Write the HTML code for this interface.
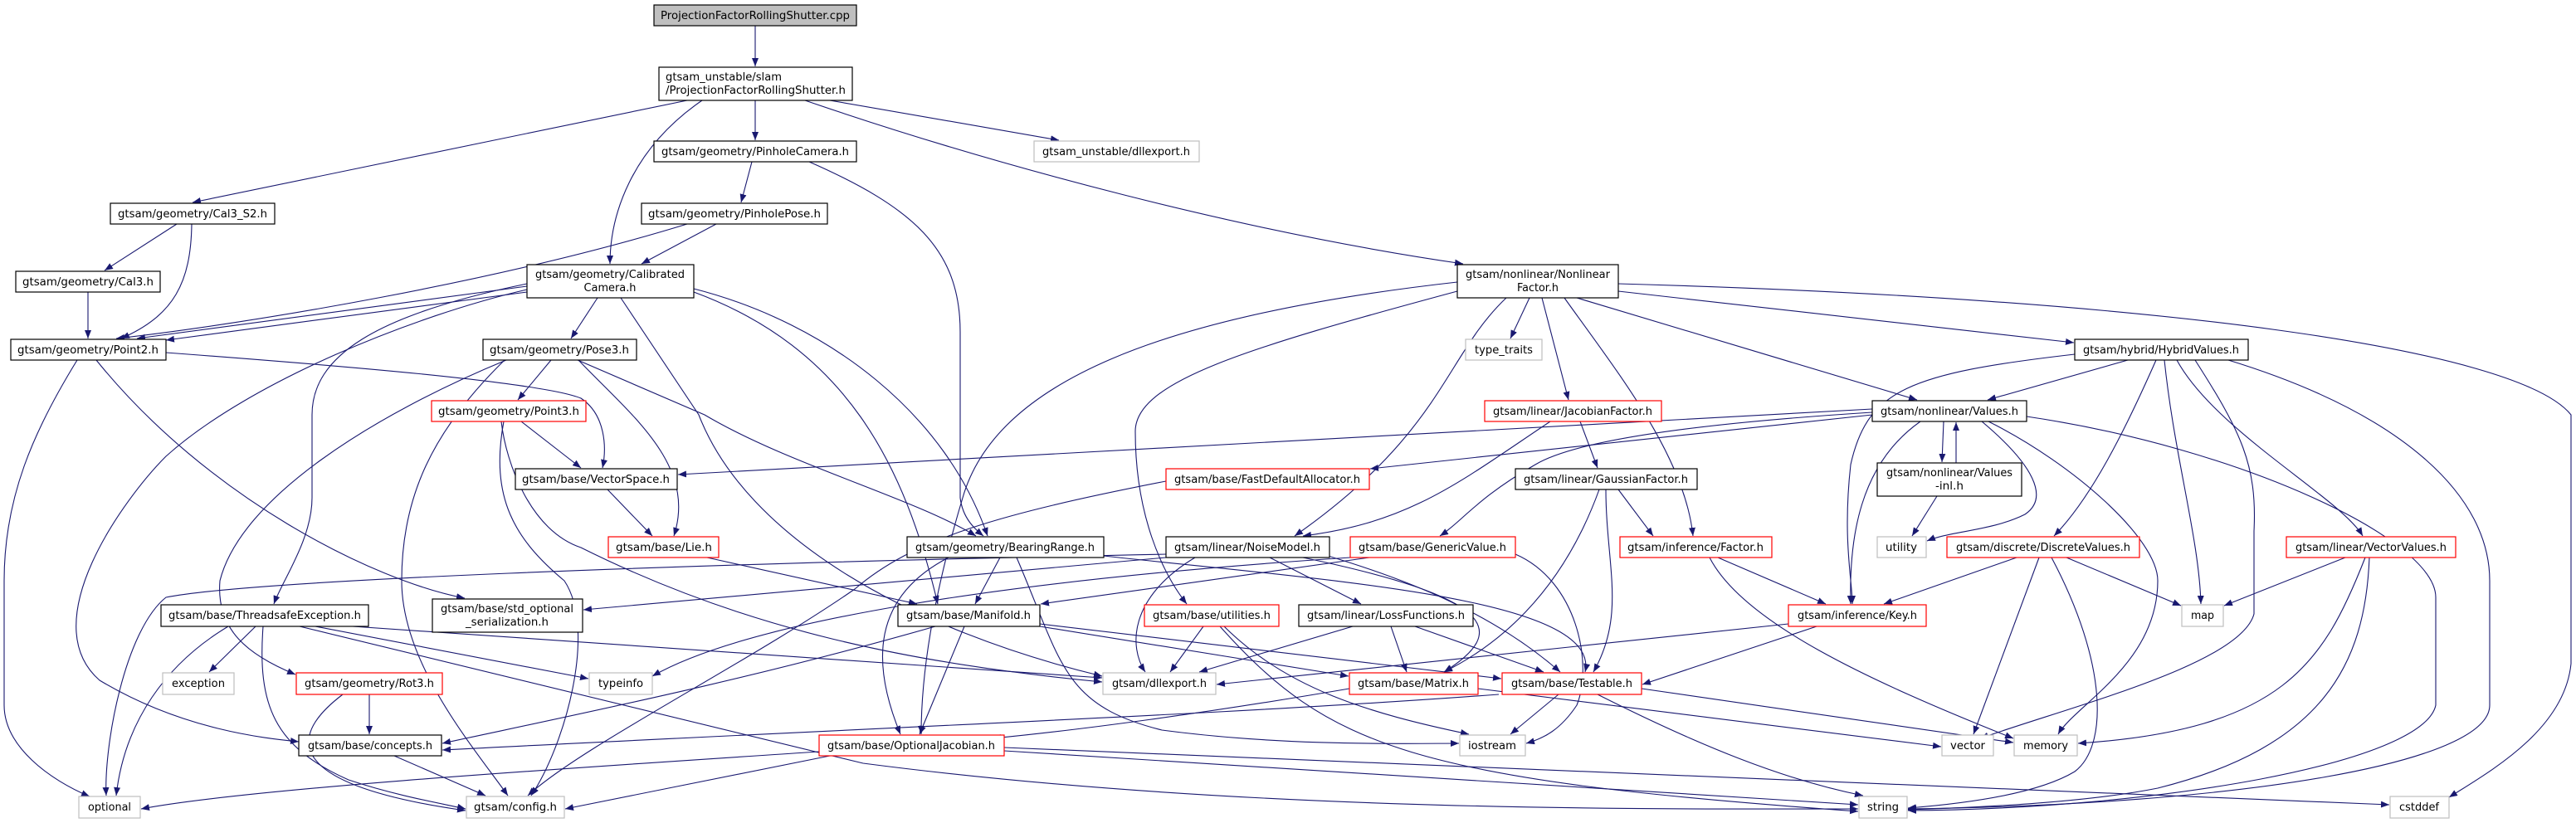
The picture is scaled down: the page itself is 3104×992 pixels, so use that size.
<!DOCTYPE html>
<html><head><meta charset="utf-8"><style>
html,body{margin:0;padding:0;background:#fff;width:3104px;height:992px;overflow:hidden}
svg{display:block}
text{font-family:"DejaVu Sans","Liberation Sans",sans-serif;font-size:13px;fill:#000}
.e{fill:none;stroke:#191970;stroke-width:1.1}
.b{fill:#fff;stroke:#000;stroke-width:1.2}
.r{fill:#fff;stroke:#ff0000;stroke-width:1.2}
.g{fill:#fff;stroke:#bfbfbf;stroke-width:1.2}
</style></head><body>
<svg width="3104" height="992" viewBox="0 0 3104 992" xmlns="http://www.w3.org/2000/svg">
<defs><marker id="a" markerUnits="userSpaceOnUse" markerWidth="11" markerHeight="8" refX="10" refY="4" orient="auto"><path d="M0,0 L10,4 L0,8 z" fill="#191970"/></marker></defs>
<g class="e" marker-end="url(#a)">
<path marker-end="url(#a)" d="M910 31 L910 80"/>
<path marker-end="url(#a)" d="M828 121 L232 244"/>
<path marker-end="url(#a)" d="M846 121 C760 180 735 260 735 318"/>
<path marker-end="url(#a)" d="M910 121 L910 169"/>
<path marker-end="url(#a)" d="M1000 121 L1276 169"/>
<path marker-end="url(#a)" d="M970 121 C1200 200 1500 280 1763 318"/>
<path marker-end="url(#a)" d="M906 195 L893 244"/>
<path marker-end="url(#a)" d="M975 195 C1100 250 1157 300 1157 400 L1157 600 C1160 625 1175 638 1185 646"/>
<path marker-end="url(#a)" d="M213 270 L126 326"/>
<path marker-end="url(#a)" d="M231 270 C230 340 210 380 146 408"/>
<path marker-end="url(#a)" d="M863 270 L773 318"/>
<path marker-end="url(#a)" d="M828 270 C600 340 300 390 140 408"/>
<path marker-end="url(#a)" d="M106 352 L106 408"/>
<path marker-end="url(#a)" d="M635 345 C450 370 300 390 165 408"/>
<path marker-end="url(#a)" d="M635 352 L200 410"/>
<path marker-end="url(#a)" d="M720 359 L688 408"/>
<path marker-end="url(#a)" d="M635 342 C450 380 376 430 376 500 L376 600 C376 650 340 700 330 728"/>
<path marker-end="url(#a)" d="M635 349 C500 380 300 460 200 550 C150 600 40 750 120 820 C220 880 320 890 360 894"/>
<path marker-end="url(#a)" d="M748 359 L842 500 C900 650 1100 760 1328 815"/>
<path marker-end="url(#a)" d="M836 348 C1000 390 1140 500 1190 646"/>
<path marker-end="url(#a)" d="M836 352 C1020 420 1090 560 1130 728"/>
<path marker-end="url(#a)" d="M93 434 C40 520 5 600 5 700 L5 850 C5 900 60 940 108 960"/>
<path marker-end="url(#a)" d="M116 434 C250 600 450 700 560 721"/>
<path marker-end="url(#a)" d="M200 425 C400 440 650 460 700 480 C730 500 731 540 726 564"/>
<path marker-end="url(#a)" d="M664 434 L624 482"/>
<path marker-end="url(#a)" d="M697 434 C760 500 840 560 812 646"/>
<path marker-end="url(#a)" d="M696 434 L849 500 C950 560 1100 600 1176 646"/>
<path marker-end="url(#a)" d="M610 434 C450 500 290 600 265 700 C260 760 300 790 356 813"/>
<path marker-end="url(#a)" d="M608 434 C520 520 484 600 484 700 C484 800 570 900 612 959"/>
<path marker-end="url(#a)" d="M628 508 L700 564"/>
<path marker-end="url(#a)" d="M607 508 C590 600 620 650 680 700 C720 760 680 900 640 959"/>
<path marker-end="url(#a)" d="M604 508 C610 560 640 640 700 660 C900 760 1100 800 1328 822"/>
<path marker-end="url(#a)" d="M732 590 L786 646"/>
<path marker-end="url(#a)" d="M852 672 L1105 728"/>
<path marker-end="url(#a)" d="M308 755 L252 810"/>
<path marker-end="url(#a)" d="M275 755 C200 800 150 870 140 959"/>
<path marker-end="url(#a)" d="M380 755 L709 818"/>
<path marker-end="url(#a)" d="M317 755 C310 850 330 900 420 940 C480 960 540 970 561 975"/>
<path marker-end="url(#a)" d="M425 755 L1328 817"/>
<path marker-end="url(#a)" d="M361 755 L1040 920 C1500 980 2000 975 2239 975"/>
<path marker-end="url(#a)" d="M445 837 L445 885"/>
<path marker-end="url(#a)" d="M413 837 C330 900 370 950 561 977"/>
<path marker-end="url(#a)" d="M475 911 L585 959"/>
<path marker-end="url(#a)" d="M1127 755 C900 820 700 860 533 896"/>
<path marker-end="url(#a)" d="M1162 755 L1108 885"/>
<path marker-end="url(#a)" d="M1253 755 L1625 815"/>
<path marker-end="url(#a)" d="M1253 752 L1809 818"/>
<path marker-end="url(#a)" d="M1205 672 L1175 728"/>
<path marker-end="url(#a)" d="M1143 672 C1050 720 1050 800 1085 885"/>
<path marker-end="url(#a)" d="M1330 670 C1600 700 1930 720 1910 810"/>
<path marker-end="url(#a)" d="M1225 672 C1280 800 1280 850 1400 880 C1550 900 1700 896 1758 896"/>
<path marker-end="url(#a)" d="M1440 672 C1360 720 1360 780 1380 810"/>
<path marker-end="url(#a)" d="M1530 672 L1640 728"/>
<path marker-end="url(#a)" d="M1570 672 C1800 720 1820 760 1740 810"/>
<path marker-end="url(#a)" d="M1600 670 C1700 700 1800 740 1880 810"/>
<path marker-end="url(#a)" d="M1405 668 C800 680 300 700 200 720 C150 760 125 900 128 959"/>
<path marker-end="url(#a)" d="M1405 672 L703 735"/>
<path marker-end="url(#a)" d="M1405 580 C1200 620 1100 650 1030 710 C900 800 700 900 636 959"/>
<path marker-end="url(#a)" d="M1868 508 C1760 580 1700 630 1570 646"/>
<path marker-end="url(#a)" d="M1904 508 L1925 564"/>
<path marker-end="url(#a)" d="M1927 590 C1880 720 1800 780 1740 810"/>
<path marker-end="url(#a)" d="M1935 590 C1935 680 1960 740 1920 810"/>
<path marker-end="url(#a)" d="M1950 590 L1992 646"/>
<path marker-end="url(#a)" d="M1650 672 L1254 728"/>
<path marker-end="url(#a)" d="M1826 668 C1900 700 1920 800 1900 850 C1880 880 1860 890 1839 896"/>
<path marker-end="url(#a)" d="M1627 672 C1200 700 900 750 786 815"/>
<path marker-end="url(#a)" d="M1450 755 L1410 810"/>
<path marker-end="url(#a)" d="M1475 755 C1550 830 1650 860 1770 885"/>
<path marker-end="url(#a)" d="M1470 755 C1600 900 1700 940 2239 978"/>
<path marker-end="url(#a)" d="M1630 755 L1445 810"/>
<path marker-end="url(#a)" d="M1676 755 L1695 810"/>
<path marker-end="url(#a)" d="M1705 755 L1860 810"/>
<path marker-end="url(#a)" d="M1626 830 C1450 860 1300 880 1196 890"/>
<path marker-end="url(#a)" d="M1781 830 L2339 900"/>
<path marker-end="url(#a)" d="M1806 837 C1500 860 1100 875 533 904"/>
<path marker-end="url(#a)" d="M1878 837 L1820 885"/>
<path marker-end="url(#a)" d="M1978 830 L2426 895"/>
<path marker-end="url(#a)" d="M1925 837 C2050 900 2150 940 2245 959"/>
<path marker-end="url(#a)" d="M987 906 C700 925 300 950 170 975"/>
<path marker-end="url(#a)" d="M1000 911 L681 975"/>
<path marker-end="url(#a)" d="M1210 905 L2239 970"/>
<path marker-end="url(#a)" d="M1210 901 L2879 970"/>
<path marker-end="url(#a)" d="M2070 672 L2200 728"/>
<path marker-end="url(#a)" d="M2060 672 C2100 750 2250 820 2426 890"/>
<path marker-end="url(#a)" d="M2189 755 L1979 825"/>
<path marker-end="url(#a)" d="M2155 752 L1466 825"/>
<path marker-end="url(#a)" d="M1843 359 L1820 408"/>
<path marker-end="url(#a)" d="M1858 359 L1890 482"/>
<path marker-end="url(#a)" d="M1756 340 C1400 380 1200 460 1160 600 C1130 700 1110 800 1110 885"/>
<path marker-end="url(#a)" d="M1756 351 C1500 420 1368 460 1368 520 C1368 620 1400 690 1430 728"/>
<path marker-end="url(#a)" d="M1815 359 C1740 430 1740 520 1560 646"/>
<path marker-end="url(#a)" d="M1885 359 C1950 450 2030 550 2040 646"/>
<path marker-end="url(#a)" d="M1900 359 L2310 482"/>
<path marker-end="url(#a)" d="M1950 351 L2499 413"/>
<path marker-end="url(#a)" d="M1950 342 C2600 360 3034 420 3098 500 L3098 800 C3090 880 3000 930 2951 961"/>
<path marker-end="url(#a)" d="M2564 434 L2395 482"/>
<path marker-end="url(#a)" d="M2500 427 C2300 450 2250 470 2230 560 C2220 650 2232 700 2232 728"/>
<path marker-end="url(#a)" d="M2598 434 C2560 520 2520 600 2475 646"/>
<path marker-end="url(#a)" d="M2608 434 C2620 550 2650 650 2652 728"/>
<path marker-end="url(#a)" d="M2623 434 C2670 520 2820 600 2847 646"/>
<path marker-end="url(#a)" d="M2645 434 C2700 520 2720 560 2716 640 L2716 740 C2700 800 2500 850 2386 890"/>
<path marker-end="url(#a)" d="M2685 434 C2900 500 3000 600 3000 700 L3000 850 C3000 920 2700 970 2299 975"/>
<path marker-end="url(#a)" d="M2256 493 L817 572"/>
<path marker-end="url(#a)" d="M2256 500 L1651 565"/>
<path marker-end="url(#a)" d="M2256 497 C2050 510 1900 530 1850 560 C1780 600 1760 630 1735 646"/>
<path marker-end="url(#a)" d="M2342 508 L2340 557"/>
<path marker-end="url(#a)" d="M2357 558 L2357 509"/>
<path marker-end="url(#a)" d="M2334 598 L2304 646"/>
<path marker-end="url(#a)" d="M2388 508 C2450 560 2470 600 2440 620 C2400 640 2350 640 2322 652"/>
<path marker-end="url(#a)" d="M2314 508 C2240 560 2228 650 2230 728"/>
<path marker-end="url(#a)" d="M2396 508 C2500 560 2600 650 2600 700 C2600 800 2500 850 2480 885"/>
<path marker-end="url(#a)" d="M2442 502 C2700 540 2935 650 2935 720 L2935 850 C2920 920 2600 975 2299 977"/>
<path marker-end="url(#a)" d="M2430 672 L2270 728"/>
<path marker-end="url(#a)" d="M2457 672 L2378 885"/>
<path marker-end="url(#a)" d="M2472 672 C2540 800 2540 900 2500 930 C2450 960 2350 970 2299 974"/>
<path marker-end="url(#a)" d="M2490 672 L2628 730"/>
<path marker-end="url(#a)" d="M2826 672 L2680 730"/>
<path marker-end="url(#a)" d="M2850 672 C2800 800 2750 880 2504 896"/>
<path marker-end="url(#a)" d="M2855 672 C2850 800 2800 900 2600 950 C2500 970 2350 974 2299 976"/>
</g>
<g>
<rect x="788" y="6" width="244" height="25" fill="#bfbfbf" stroke="#000" stroke-width="1.2"/><text x="910" y="23" text-anchor="middle" textLength="228" lengthAdjust="spacingAndGlyphs">ProjectionFactorRollingShutter.cpp</text>
<rect class="b" x="794" y="81" width="233" height="40"/><text x="802" y="97" textLength="140" lengthAdjust="spacingAndGlyphs">gtsam_unstable/slam</text><text x="802" y="113" textLength="217" lengthAdjust="spacingAndGlyphs">/ProjectionFactorRollingShutter.h</text>
<rect class="b" x="788" y="170" width="244" height="25"/><text x="910" y="187" text-anchor="middle" textLength="226" lengthAdjust="spacingAndGlyphs">gtsam/geometry/PinholeCamera.h</text>
<rect class="b" x="133" y="245" width="198" height="25"/><text x="232" y="262" text-anchor="middle" textLength="180" lengthAdjust="spacingAndGlyphs">gtsam/geometry/Cal3_S2.h</text>
<rect class="b" x="773" y="245" width="224" height="25"/><text x="885" y="262" text-anchor="middle" textLength="208" lengthAdjust="spacingAndGlyphs">gtsam/geometry/PinholePose.h</text>
<rect class="b" x="19" y="327" width="174" height="25"/><text x="106" y="344" text-anchor="middle" textLength="158" lengthAdjust="spacingAndGlyphs">gtsam/geometry/Cal3.h</text>
<rect class="b" x="635" y="319" width="201" height="40"/><text x="735" y="335" text-anchor="middle" textLength="180" lengthAdjust="spacingAndGlyphs">gtsam/geometry/Calibrated</text><text x="735" y="351" text-anchor="middle" textLength="63" lengthAdjust="spacingAndGlyphs">Camera.h</text>
<rect class="b" x="13" y="409" width="187" height="25"/><text x="106" y="426" text-anchor="middle" textLength="170" lengthAdjust="spacingAndGlyphs">gtsam/geometry/Point2.h</text>
<rect class="b" x="582" y="409" width="185" height="25"/><text x="674" y="426" text-anchor="middle" textLength="168" lengthAdjust="spacingAndGlyphs">gtsam/geometry/Pose3.h</text>
<rect class="r" x="520" y="483" width="186" height="25"/><text x="613" y="500" text-anchor="middle" textLength="170" lengthAdjust="spacingAndGlyphs">gtsam/geometry/Point3.h</text>
<rect class="b" x="621" y="565" width="195" height="25"/><text x="718" y="582" text-anchor="middle" textLength="178" lengthAdjust="spacingAndGlyphs">gtsam/base/VectorSpace.h</text>
<rect class="r" x="733" y="647" width="133" height="25"/><text x="800" y="664" text-anchor="middle" textLength="116" lengthAdjust="spacingAndGlyphs">gtsam/base/Lie.h</text>
<rect class="b" x="521" y="722" width="181" height="40"/><text x="611" y="738" text-anchor="middle" textLength="160" lengthAdjust="spacingAndGlyphs">gtsam/base/std_optional</text><text x="611" y="754" text-anchor="middle" textLength="100" lengthAdjust="spacingAndGlyphs">_serialization.h</text>
<rect class="b" x="194" y="729" width="250" height="26"/><text x="319" y="746" text-anchor="middle" textLength="232" lengthAdjust="spacingAndGlyphs">gtsam/base/ThreadsafeException.h</text>
<rect class="g" x="196" y="811" width="86" height="26"/><text x="239" y="828" text-anchor="middle" textLength="64" lengthAdjust="spacingAndGlyphs">exception</text>
<rect class="r" x="357" y="811" width="176" height="26"/><text x="445" y="828" text-anchor="middle" textLength="156" lengthAdjust="spacingAndGlyphs">gtsam/geometry/Rot3.h</text>
<rect class="g" x="710" y="811" width="76" height="26"/><text x="748" y="828" text-anchor="middle" textLength="54" lengthAdjust="spacingAndGlyphs">typeinfo</text>
<rect class="b" x="360" y="886" width="172" height="25"/><text x="446" y="903" text-anchor="middle" textLength="150" lengthAdjust="spacingAndGlyphs">gtsam/base/concepts.h</text>
<rect class="g" x="95" y="960" width="74" height="26"/><text x="132" y="977" text-anchor="middle" textLength="52" lengthAdjust="spacingAndGlyphs">optional</text>
<rect class="g" x="562" y="960" width="118" height="26"/><text x="621" y="977" text-anchor="middle" textLength="100" lengthAdjust="spacingAndGlyphs">gtsam/config.h</text>
<rect class="g" x="1246" y="170" width="199" height="25"/><text x="1345" y="187" text-anchor="middle" textLength="178" lengthAdjust="spacingAndGlyphs">gtsam_unstable/dllexport.h</text>
<rect class="b" x="1756" y="319" width="194" height="40"/><text x="1853" y="335" text-anchor="middle" textLength="174" lengthAdjust="spacingAndGlyphs">gtsam/nonlinear/Nonlinear</text><text x="1853" y="351" text-anchor="middle" textLength="50" lengthAdjust="spacingAndGlyphs">Factor.h</text>
<rect class="g" x="1766" y="409" width="92" height="25"/><text x="1812" y="426" text-anchor="middle" textLength="70" lengthAdjust="spacingAndGlyphs">type_traits</text>
<rect class="r" x="1789" y="483" width="213" height="25"/><text x="1895" y="500" text-anchor="middle" textLength="192" lengthAdjust="spacingAndGlyphs">gtsam/linear/JacobianFactor.h</text>
<rect class="r" x="1405" y="565" width="245" height="25"/><text x="1527" y="582" text-anchor="middle" textLength="224" lengthAdjust="spacingAndGlyphs">gtsam/base/FastDefaultAllocator.h</text>
<rect class="b" x="1826" y="565" width="219" height="25"/><text x="1935" y="582" text-anchor="middle" textLength="198" lengthAdjust="spacingAndGlyphs">gtsam/linear/GaussianFactor.h</text>
<rect class="b" x="1093" y="647" width="237" height="25"/><text x="1211" y="664" text-anchor="middle" textLength="216" lengthAdjust="spacingAndGlyphs">gtsam/geometry/BearingRange.h</text>
<rect class="b" x="1405" y="647" width="197" height="25"/><text x="1503" y="664" text-anchor="middle" textLength="176" lengthAdjust="spacingAndGlyphs">gtsam/linear/NoiseModel.h</text>
<rect class="r" x="1627" y="647" width="199" height="25"/><text x="1726" y="664" text-anchor="middle" textLength="178" lengthAdjust="spacingAndGlyphs">gtsam/base/GenericValue.h</text>
<rect class="r" x="1952" y="647" width="183" height="25"/><text x="2043" y="664" text-anchor="middle" textLength="164" lengthAdjust="spacingAndGlyphs">gtsam/inference/Factor.h</text>
<rect class="b" x="1082" y="729" width="171" height="26"/><text x="1167" y="746" text-anchor="middle" textLength="150" lengthAdjust="spacingAndGlyphs">gtsam/base/Manifold.h</text>
<rect class="r" x="1379" y="729" width="162" height="26"/><text x="1460" y="746" text-anchor="middle" textLength="142" lengthAdjust="spacingAndGlyphs">gtsam/base/utilities.h</text>
<rect class="b" x="1565" y="729" width="210" height="26"/><text x="1670" y="746" text-anchor="middle" textLength="190" lengthAdjust="spacingAndGlyphs">gtsam/linear/LossFunctions.h</text>
<rect class="g" x="1329" y="811" width="136" height="26"/><text x="1397" y="828" text-anchor="middle" textLength="114" lengthAdjust="spacingAndGlyphs">gtsam/dllexport.h</text>
<rect class="r" x="1626" y="811" width="155" height="26"/><text x="1703" y="828" text-anchor="middle" textLength="134" lengthAdjust="spacingAndGlyphs">gtsam/base/Matrix.h</text>
<rect class="r" x="1810" y="811" width="168" height="26"/><text x="1894" y="828" text-anchor="middle" textLength="146" lengthAdjust="spacingAndGlyphs">gtsam/base/Testable.h</text>
<rect class="r" x="987" y="886" width="223" height="25"/><text x="1098" y="903" text-anchor="middle" textLength="202" lengthAdjust="spacingAndGlyphs">gtsam/base/OptionalJacobian.h</text>
<rect class="g" x="1759" y="886" width="79" height="25"/><text x="1798" y="903" text-anchor="middle" textLength="58" lengthAdjust="spacingAndGlyphs">iostream</text>
<rect class="b" x="2500" y="409" width="209" height="25"/><text x="2604" y="426" text-anchor="middle" textLength="188" lengthAdjust="spacingAndGlyphs">gtsam/hybrid/HybridValues.h</text>
<rect class="b" x="2256" y="483" width="186" height="25"/><text x="2349" y="500" text-anchor="middle" textLength="166" lengthAdjust="spacingAndGlyphs">gtsam/nonlinear/Values.h</text>
<rect class="b" x="2262" y="558" width="174" height="40"/><text x="2349" y="574" text-anchor="middle" textLength="152" lengthAdjust="spacingAndGlyphs">gtsam/nonlinear/Values</text><text x="2349" y="590" text-anchor="middle" textLength="34" lengthAdjust="spacingAndGlyphs">-inl.h</text>
<rect class="g" x="2262" y="647" width="59" height="25"/><text x="2291" y="664" text-anchor="middle" textLength="38" lengthAdjust="spacingAndGlyphs">utility</text>
<rect class="r" x="2346" y="647" width="232" height="25"/><text x="2462" y="664" text-anchor="middle" textLength="210" lengthAdjust="spacingAndGlyphs">gtsam/discrete/DiscreteValues.h</text>
<rect class="r" x="2755" y="647" width="204" height="25"/><text x="2857" y="664" text-anchor="middle" textLength="182" lengthAdjust="spacingAndGlyphs">gtsam/linear/VectorValues.h</text>
<rect class="r" x="2155" y="729" width="166" height="26"/><text x="2238" y="746" text-anchor="middle" textLength="144" lengthAdjust="spacingAndGlyphs">gtsam/inference/Key.h</text>
<rect class="g" x="2629" y="729" width="50" height="26"/><text x="2654" y="746" text-anchor="middle" textLength="28" lengthAdjust="spacingAndGlyphs">map</text>
<rect class="g" x="2340" y="886" width="62" height="25"/><text x="2371" y="903" text-anchor="middle" textLength="42" lengthAdjust="spacingAndGlyphs">vector</text>
<rect class="g" x="2427" y="886" width="76" height="25"/><text x="2465" y="903" text-anchor="middle" textLength="54" lengthAdjust="spacingAndGlyphs">memory</text>
<rect class="g" x="2240" y="960" width="58" height="26"/><text x="2269" y="977" text-anchor="middle" textLength="38" lengthAdjust="spacingAndGlyphs">string</text>
<rect class="g" x="2880" y="960" width="71" height="26"/><text x="2915" y="977" text-anchor="middle" textLength="48" lengthAdjust="spacingAndGlyphs">cstddef</text>
</g>
</svg>
</body></html>
